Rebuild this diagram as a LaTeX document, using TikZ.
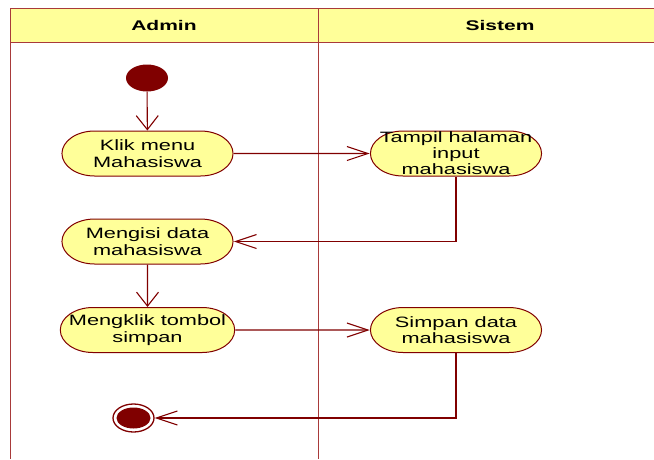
\documentclass[tikz,border=0pt]{standalone}
\usepackage{fontspec}
\setmainfont{Liberation Sans}
\usetikzlibrary{shapes.misc,shapes.geometric,arrows.meta}
\definecolor{dkred}{HTML}{800000}
\definecolor{lanered}{HTML}{A83A3A}
\definecolor{pale}{HTML}{FFFF99}
\tikzset{
  act/.style={rounded rectangle, draw=dkred, line width=1pt, fill=pale,
    minimum width=118pt, minimum height=45pt, inner sep=0pt, xscale=1.45,
    align=center, font=\fontsize{15}{16.5}\selectfont},
  flow/.style={draw=dkred, line width=1.1pt},
  harr/.style={-{Straight Barb[length=21pt,width=14pt,line width=1.1pt]}},
  varr/.style={-{Straight Barb[length=14pt,width=22pt,line width=1.1pt]}},
  lane/.style={draw=lanered, line width=0.9pt},
  head/.style={font=\fontsize{14}{16}\selectfont\bfseries, xscale=1.5},
}
\begin{document}
\begin{tikzpicture}[x=1pt,y=-1pt]
\useasboundingbox (0,0) rectangle (654,459);
% swimlane header band and lane borders
\fill[pale] (10,8) rectangle (654,42);
\draw[lane] (10,8) -- (654,8);
\draw[lane] (10,42) -- (654,42);
\draw[lane] (10,8) -- (10,459);
\draw[lane] (318,8) -- (318,459);
\node[head] (hadmin) at (164,25) {Admin};
\node[head] (hsistem) at (500,25) {Sistem};
% start and end
\node[ellipse, fill=dkred, minimum width=42pt, minimum height=27pt, inner sep=0pt] (start) at (147,78) {};
\node[ellipse, draw=dkred, line width=1.3pt, fill=white, minimum width=41pt, minimum height=28pt, inner sep=0pt] (end) at (133.5,418) {};
\fill[dkred] (end.center) ellipse (17 and 10.5);
% activities
\node[act, label={[xscale=1.45, align=center, font=\fontsize{15}{16}\selectfont]center:Tampil halaman\\input\\mahasiswa}] (tampil) at (456,153.5) {};
\node[act] (klik) at (147.5,153.5) {Klik menu\\Mahasiswa};
\node[act] (isi) at (147.5,241.5) {Mengisi data\\mahasiswa};
\node[act] (tombol) at (147.5,330) {Mengklik tombol\\simpan};
\node[act] (simpan) at (456,330) {Simpan data\\mahasiswa};
% control flow
\draw[flow, varr] (start) -- (klik);
\draw[flow, harr] (klik) -- (tampil);
\draw[flow, harr] (tampil) |- (isi);
\draw[flow, varr] (isi) -- (tombol);
\draw[flow, harr] (tombol) -- (simpan);
\draw[flow, harr] (simpan) |- (end);
\end{tikzpicture}
\end{document}
